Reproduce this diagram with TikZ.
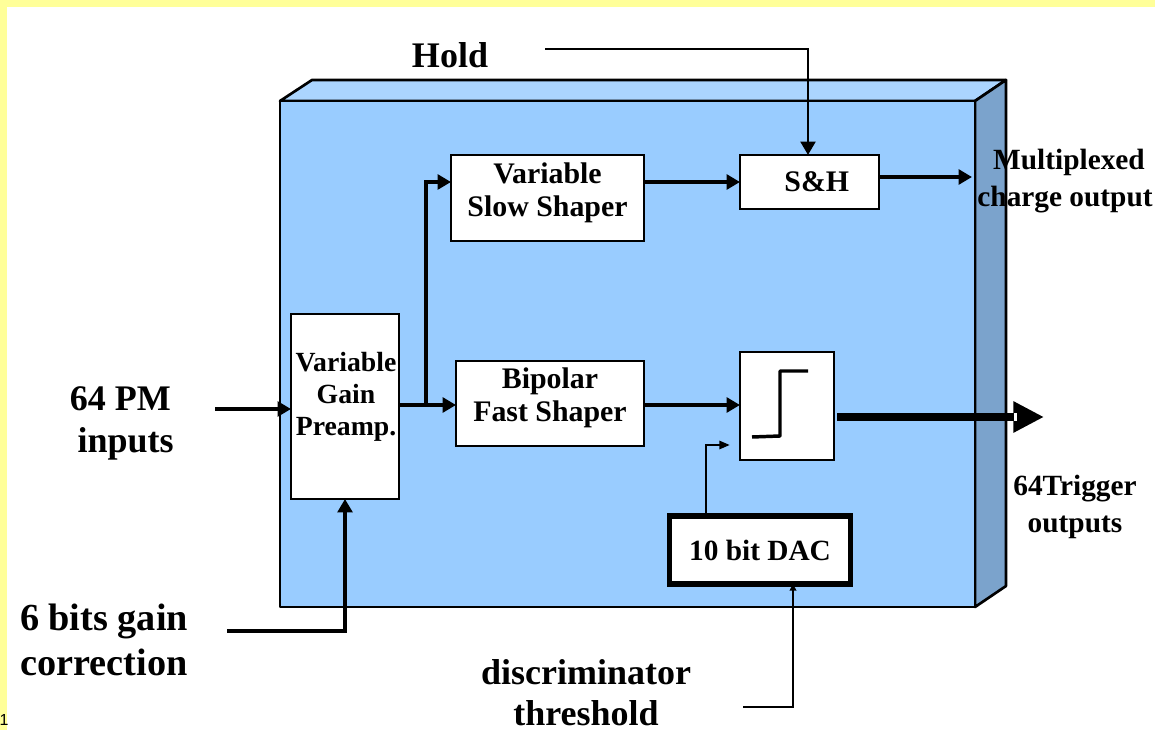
\documentclass[tikz,border=0pt]{standalone}
\usepackage{fontspec}
\setmainfont{Liberation Serif}
\newfontfamily\labelsans{Liberation Sans}
\usetikzlibrary{arrows.meta}
\definecolor{frontblue}{HTML}{99CCFF}
\definecolor{topblue}{HTML}{ABD5FF}
\definecolor{sideblue}{HTML}{7BA3CC}
\definecolor{bandyellow}{HTML}{FFFF99}
\newcommand{\fs}[2]{\fontsize{#1}{#2}\selectfont\bfseries}
\tikzset{
  x=0.75pt,y=-0.75pt,
  panel/.style={draw=black,line width=2pt,line join=round},
  blockbox/.style={draw=black,fill=white,line width=2.2pt,inner sep=0pt,outer sep=0pt,align=center,font=\fs{22.4}{25}},
  blocktext/.style={inner sep=0pt,align=center,font=\fs{22.4}{25}},
  biglabel/.style={inner sep=0pt,align=center,font=\fs{27}{31.5}},
  midlabel/.style={inner sep=0pt,align=center,font=\fs{22}{28}},
  mainflow/.style={line width=3pt,-{Triangle[length=10pt,width=11pt]}},
  thinflow/.style={line width=2.2pt,-{Triangle[length=10pt,width=11pt]}},
}
\begin{document}
\begin{tikzpicture}
\useasboundingbox (0,0) rectangle (1155,730);
\fill[white] (0,0) rectangle (1155,730);
\fill[bandyellow] (0,0) rectangle (1155,7);
\fill[bandyellow] (0,0) rectangle (7,730);
\node[inner sep=0pt,anchor=center,font=\labelsans\fontsize{12}{14}\selectfont] (pagenum) at (4,720) {1};

% chip block
\draw[panel,fill=topblue] (280,101) -- (312,80) -- (1006,80) -- (975,101) -- cycle;
\draw[panel,fill=sideblue] (975,101) -- (1006,80) -- (1006,586) -- (975,607) -- cycle;
\draw[panel,fill=frontblue] (280,101) rectangle (975,607);

% blocks
\node[blockbox,minimum width=108*0.75pt,minimum height=185*0.75pt] (preamp) at (345,406.5) {};
\node[blocktext,font=\fs{20.8}{24}] (preampT) at (346,396.5) {Variable\\Gain\\Preamp.};
\node[blockbox,minimum width=193*0.75pt,minimum height=86*0.75pt] (slow) at (547.5,198) {};
\node[blocktext] (slowT) at (547.5,193) {Variable\\Slow Shaper};
\node[blockbox,minimum width=139*0.75pt,minimum height=54*0.75pt] (sh) at (809.5,182) {\hspace*{11pt}S\&H};
\node[blockbox,minimum width=188*0.75pt,minimum height=85*0.75pt] (fast) at (550,403.5) {};
\node[blocktext] (fastT) at (550,397.5) {Bipolar\\Fast Shaper};
\node[blockbox,minimum width=94*0.75pt,minimum height=108*0.75pt] (comp) at (787,406) {};
\node[blockbox,line width=3.8pt,minimum width=181*0.75pt,minimum height=68*0.75pt,font=\fs{22}{26}] (dac) at (760,550) {10 bit DAC};
\draw[line width=2.6pt,line join=round] (752,437) -- (780,436) -- (780,371) -- (808,371);

% outside labels
\node[biglabel] (inputs) at (123,423) {64 PM\hspace*{4pt}\\\hspace*{4pt}inputs};
\node[biglabel,font=\fs{28.7}{34}] (gain) at (104,640) {6 bits gain\\correction};
\node[biglabel,font=\fs{27}{30.5}] (thresh) at (586,693) {discriminator\\threshold};
\node[biglabel] (hold) at (450,55) {Hold};

% helper points
\coordinate (inA) at (215,409);
\coordinate (gainA) at (227,631);
\coordinate (gainB) at (345,631);
\coordinate (threshA) at (743,707);
\coordinate (threshB) at (793,707);
\coordinate (holdA) at (545,49);
\coordinate (holdB) at (808,49);
\coordinate (bus) at (426,405);
\coordinate (upper) at (426,182);
\coordinate (shOut) at (972,177);
\coordinate (fastRow) at (644,405);
\coordinate (dacUp) at (706,445);
\coordinate (dacEnd) at (730,445);
\coordinate (trigOut) at (1044,417);

% connectors
\draw[mainflow] (inA) -- (preamp.west |- inA);
\draw[mainflow,line join=miter] (gainA) -- (gainB) -- (preamp.south);
\draw[mainflow] (preamp.east |- bus) -- (fast.west |- bus);
\draw[mainflow,line join=miter] (bus) -- (upper) -- (slow.west |- upper);
\draw[mainflow] (slow.east |- upper) -- (sh.west |- upper);
\draw[mainflow] (sh.east |- shOut) -- (shOut);
\draw[mainflow] (fastRow) -- (comp.west |- fastRow);
\draw[line width=6.5pt,-{Triangle[length=23pt,width=22pt]}] (comp.east |- trigOut) ++(3,0) -- (trigOut);
\fill[white] (1014,413) rectangle (1017,421);
\draw[thinflow,-{Triangle[length=8pt,width=6pt]}] (dac.north -| dacUp) -- (dacUp) -- (dacEnd);
\draw[thinflow,line join=miter] (holdA) -- (holdB) -- (sh.north -| holdB);
\draw[thinflow,-{Triangle[length=5pt,width=5pt]}] (threshA) -- (threshB) -- (dac.south -| threshB);

% labels over the block
\node[midlabel,font=\fs{22}{27.5}] (mux) at (1065,181) {\hspace*{6pt}Multiplexed\\charge output};
\node[midlabel] (trig) at (1075,507) {64Trigger\\outputs};
\end{tikzpicture}
\end{document}
